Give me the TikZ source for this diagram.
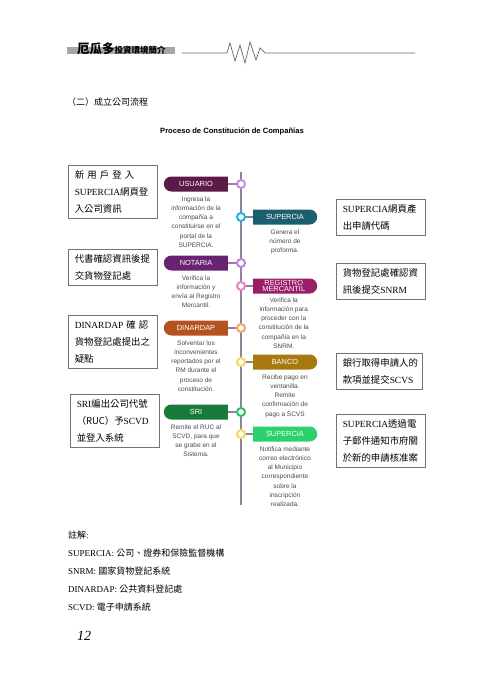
\documentclass[tikz,border=0pt]{standalone}
\usepackage{fontspec}
\setmainfont{Liberation Serif}
\setsansfont{Liberation Sans}
\newfontfamily\cjk{Noto Sans CJK TC}
\usetikzlibrary{shapes.misc,positioning}

\newcommand{\zh}[1]{{\cjk #1}}

\definecolor{spine}{HTML}{8C8498}
\definecolor{infogray}{HTML}{4A4A4A}
\definecolor{cUsuario}{HTML}{5B1A48}
\definecolor{dUsuario}{HTML}{C68AE0}
\definecolor{cSuper}{HTML}{1B5E6E}
\definecolor{dSuper}{HTML}{1EB2E6}
\definecolor{cNotaria}{HTML}{6A2272}
\definecolor{dNotaria}{HTML}{C47EE0}
\definecolor{cRegistro}{HTML}{9A1E66}
\definecolor{dRegistro}{HTML}{F07CC8}
\definecolor{cDinardap}{HTML}{B4531F}
\definecolor{dDinardap}{HTML}{F5A55A}
\definecolor{cBanco}{HTML}{A7790F}
\definecolor{dBanco}{HTML}{F3D85A}
\definecolor{cSri}{HTML}{197A3B}
\definecolor{dSri}{HTML}{28C46A}
\definecolor{cSuperb}{HTML}{2AD26E}

\begin{document}
\begin{tikzpicture}[
    x=1pt, y=-1pt,
    tag/.style={rounded rectangle, text=white, font=\sffamily\fontsize{7.4}{6.6}\selectfont, minimum width=66pt, minimum height=15pt, inner sep=1pt, align=center},
    ltag/.style={tag, rounded rectangle right arc=none},
    rtag/.style={tag, rounded rectangle left arc=none},
    dot/.style={circle, draw, line width=2pt, fill=white, minimum size=8pt, inner sep=0pt},
    link/.style={draw=spine, line width=2pt},
    info/.style={align=center, font=\sffamily\fontsize{6.5}{9.1}\selectfont, text=infogray, inner sep=0pt},
    note/.style={draw=black!55, line width=0.5pt, text width=76pt, inner xsep=6.5pt, inner ysep=5pt, align=left, anchor=north west, font=\fontsize{9.4}{17}\selectfont}
]
    \useasboundingbox[fill=white] (0,0) rectangle (480,679);

    % page header
    \fill[black!35] (67,47) rectangle (175,54);
    \node[anchor=base west, inner sep=0pt, font=\cjk\bfseries\fontsize{12.5}{12.5}\selectfont] (head) at (77,54) {厄瓜多{\fontsize{8.5}{8.5}\selectfont 投資環境簡介}};
    \draw[black!60, line width=0.7pt] (182,53) -- (227,53) -- (230,43) -- (235,61) -- (240,45) -- (245,63) -- (250,42) -- (256,60) -- (260,48) -- (265,53) -- (415,53);

    \node[anchor=west, inner sep=0pt, font=\cjk\fontsize{9}{9}\selectfont] (sect) at (67,102) {（二）成立公司流程};
    \node[inner sep=0pt, font=\sffamily\bfseries\fontsize{7.6}{8}\selectfont] (title) at (232,132) {Proceso de Constitución de Compañías};

    % time line
    \coordinate (top) at (241,172);
    \coordinate (bottom) at (241,505);
    \draw[spine, line width=2.5pt] (top) -- (bottom);

    % left steps
    \node[ltag, fill=cUsuario, anchor=east] (usuario) at (228,184) {USUARIO};
    \node[dot, draw=dUsuario] (du) at (241,184) {};
    \node[info, below=5pt of usuario] (usuariotxt) {Ingresa la\\información de la\\compañía a\\constituirse en el\\portal de la\\SUPERCIA.};

    \node[ltag, fill=cNotaria, anchor=east] (notaria) at (228,263) {NOTARIA};
    \node[dot, draw=dNotaria] (dn) at (241,263) {};
    \node[info, below=5pt of notaria] (notariatxt) {Verifica la\\información y\\envía al Registro\\Mercantil.};

    \node[ltag, fill=cDinardap, anchor=east] (dinardap) at (228,328) {DINARDAP};
    \node[dot, draw=dDinardap] (dd) at (241,328) {};
    \node[info, below=5pt of dinardap] (dinardaptxt) {Solventar los\\inconvenientes\\reportados por el\\RM durante el\\proceso de\\constitución.};

    \node[ltag, fill=cSri, anchor=east] (sri) at (228,412) {SRI};
    \node[dot, draw=dSri] (ds) at (241,412) {};
    \node[info, below=5pt of sri] (sritxt) {Remite el RUC al\\SCVD, para que\\se grabe en el\\Sistema.};

    % right steps
    \node[rtag, fill=cSuper, anchor=west] (supercia) at (253,217) {SUPERCIA};
    \node[dot, draw=dSuper] (dsu) at (241,217) {};
    \node[info, below=5pt of supercia] (superciatxt) {Genera el\\número de\\proforma.};

    \node[rtag, fill=cRegistro, anchor=west] (registro) at (253,286) {REGISTRO\\MERCANTIL};
    \node[dot, draw=dRegistro] (dr) at (241,286) {};
    \node[info, below=4pt of registro] (registrotxt) {Verifica la\\información para\\proceder con la\\constitución de la\\compañía en la\\SNRM.};

    \node[rtag, fill=cBanco, anchor=west] (banco) at (253,362) {BANCO};
    \node[dot, draw=dBanco] (db) at (241,362) {};
    \node[info, below=5pt of banco] (bancotxt) {Recibe pago en\\ventanilla.\\Remite\\confirmación de\\pago a SCVS};

    \node[rtag, fill=cSuperb, anchor=west] (superciab) at (253,434) {SUPERCIA};
    \node[dot, draw=dBanco] (dsb) at (241,434) {};
    \node[info, below=5pt of superciab] (superciabtxt) {Notifica mediante\\correo electrónico\\al Municipio\\correspondiente\\sobre la\\inscripción\\realizada.};

    \draw[link] (usuario.east) -- (du.west);
    \draw[link] (notaria.east) -- (dn.west);
    \draw[link] (dinardap.east) -- (dd.west);
    \draw[link] (sri.east) -- (ds.west);
    \draw[link] (dsu.east) -- (supercia.west);
    \draw[link] (dr.east) -- (registro.west);
    \draw[link] (db.east) -- (banco.west);
    \draw[link] (dsb.east) -- (superciab.west);

    % notes beside the steps
    \node[note] (usuarionote) at (68,165) {\makebox[76pt][s]{\zh{新 用 戶 登 入}}\\SUPERCIA\zh{網頁登}\\\zh{入公司資訊}};
    \node[note] (notarianote) at (68,249) {\zh{代書確認資訊後提}\\\zh{交貨物登記處}};
    \node[note] (dinardapnote) at (68,315) {\makebox[76pt][s]{DINARDAP \zh{確 認}}\\\zh{貨物登記處提出之}\\\zh{疑點}};
    \node[note] (srinote) at (70,394) {SRI\zh{編出公司代號}\\\zh{（RUC）予}SCVD\\\zh{並登入系統}};
    \node[note] (superciannote) at (336,199) {SUPERCIA\zh{網頁產}\\\zh{出申請代碼}};
    \node[note] (registronote) at (336,263) {\zh{貨物登記處確認資}\\\zh{訊後提交}SNRM};
    \node[note, text width=73pt] (banconote) at (336,353) {\zh{銀行取得申請人的}\\\zh{款項並提交}SCVS};
    \node[note] (superciabnote) at (336,414) {SUPERCIA\zh{透過電}\\\zh{子郵件通知市府關}\\\zh{於新的申請核准案}};

    % glossary
    \node[anchor=north west, align=left, inner sep=0pt, font=\fontsize{9}{18}\selectfont] (notes) at (68,531) {\zh{註解}:\\SUPERCIA: \zh{公司、證券和保險監督機構}\\SNRM: \zh{國家貨物登記系統}\\DINARDAP: \zh{公共資料登記處}\\SCVD: \zh{電子申請系統}};
    \node[anchor=west, inner sep=0pt, font=\itshape\fontsize{14}{14}\selectfont] (pageno) at (77,636) {12};
\end{tikzpicture}
\end{document}
